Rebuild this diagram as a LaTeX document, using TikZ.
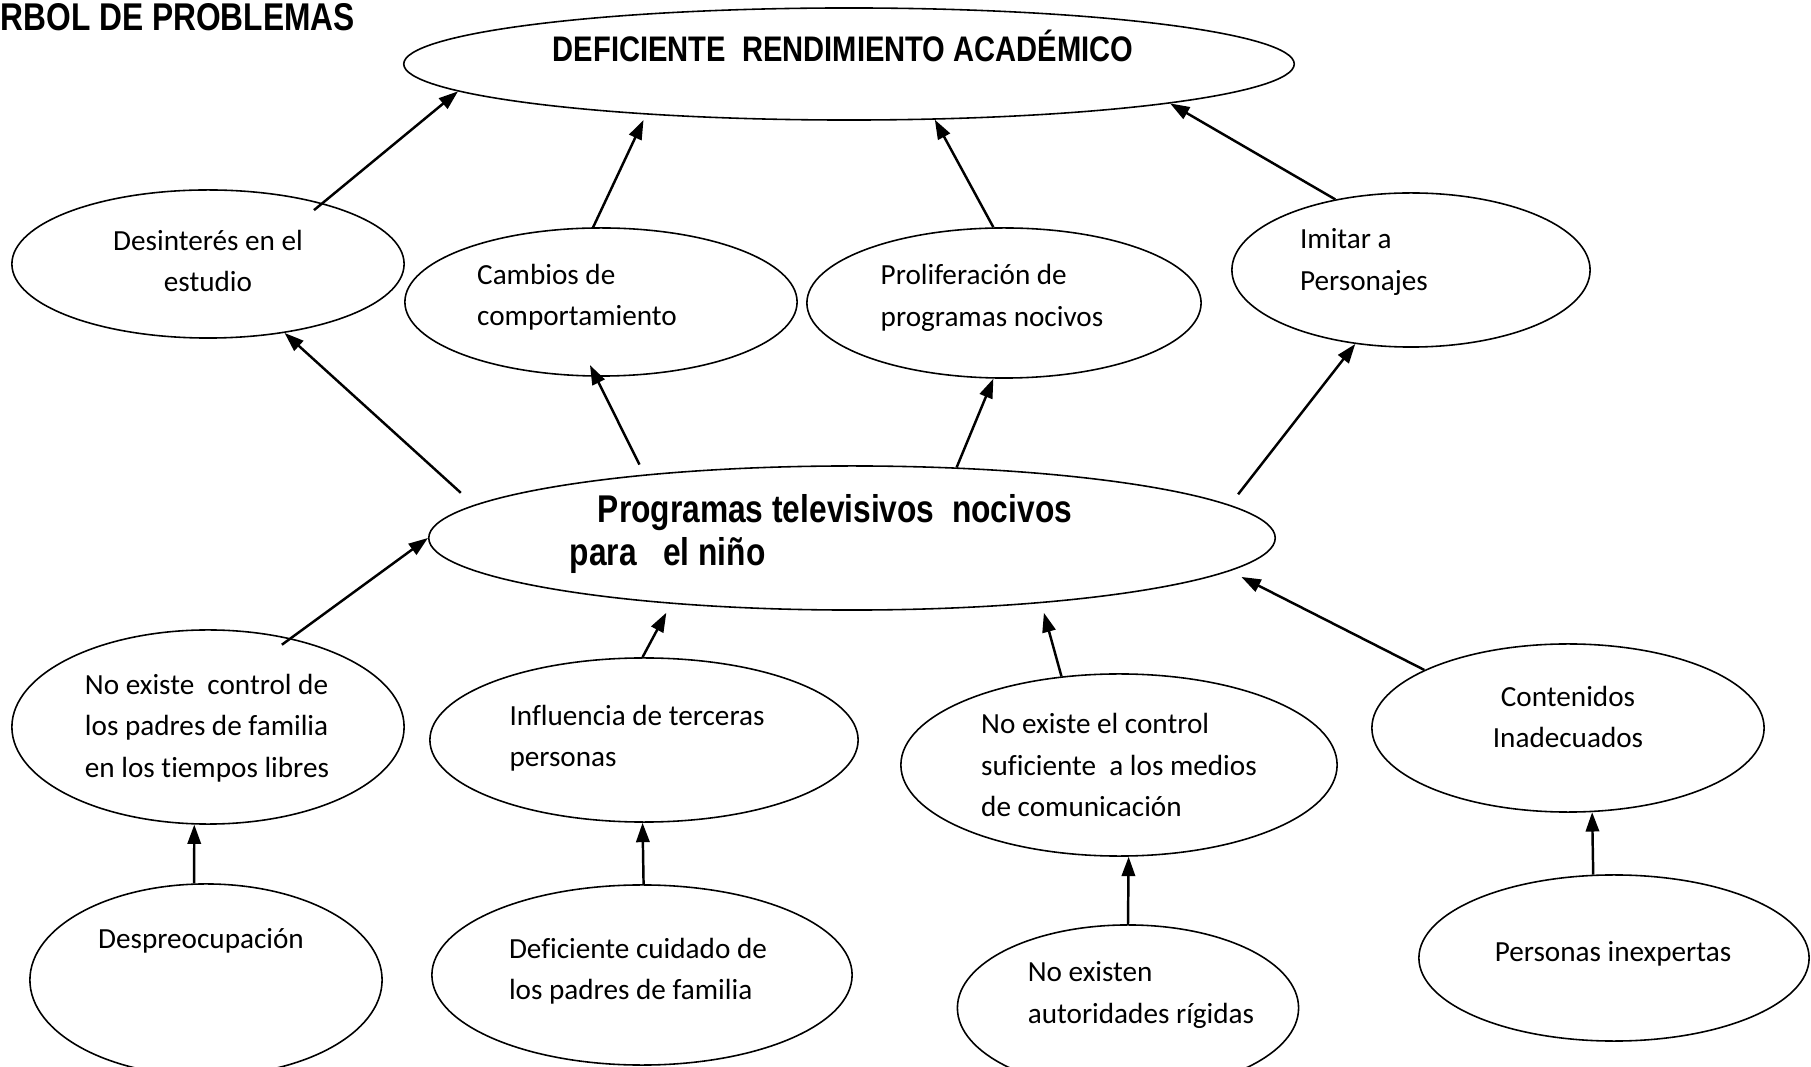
\documentclass[tikz,border=0pt]{standalone}
\usepackage{fontspec}
\setmainfont{Carlito}[Ligatures=NoCommon]
\newfontfamily\headfont[FakeStretch=0.82]{Liberation Sans}
\usetikzlibrary{arrows.meta, shapes.geometric}
\tikzset{
  bubble/.style={draw, ellipse, line width=0.45pt, inner sep=0pt},
  cause/.style={font=\fontsize{8.3}{11.8}\selectfont, align=left, inner sep=0pt},
  head/.style={font=\headfont\bfseries\fontsize{10.1}{12.5}\selectfont, align=left, inner sep=0pt},
  link/.style={-{Triangle[length=5.5pt,width=3.8pt]}, line width=0.7pt}
}

\begin{document}
\begin{tikzpicture}[x=0.01cm, y=-0.01cm]
  \useasboundingbox (0,0) rectangle (1811,1067);
  \node[head, anchor=west, font=\headfont\bfseries\fontsize{11}{13}\selectfont] (title) at (0,17) {RBOL DE PROBLEMAS};

  \node[bubble, minimum width=8.90cm, minimum height=1.12cm,
        label={[head, shift={(-6,-18)}]center:DEFICIENTE~~RENDIMIENTO ACADÉMICO}] (top) at (849,64) {};

  \node[bubble, minimum width=3.92cm, minimum height=1.48cm,
        label={[cause, align=center, shift={(0,-3)}]center:Desinterés en el\\estudio}] (desint) at (208,264) {};
  \node[bubble, minimum width=3.92cm, minimum height=1.48cm,
        label={[cause, shift={(-24,-5)}]center:Cambios de\\comportamiento}] (cambios) at (601,302) {};
  \node[bubble, minimum width=3.94cm, minimum height=1.50cm,
        label={[cause, shift={(-12,-5)}]center:Proliferación de\\programas nocivos}] (prolif) at (1004,303) {};
  \node[bubble, minimum width=3.58cm, minimum height=1.54cm,
        label={[cause, shift={(-47,-8)}]center:Imitar a\\Personajes}] (imitar) at (1411,270) {};

  \node[bubble, minimum width=8.46cm, minimum height=1.44cm,
        label={[head, font=\headfont\bfseries\fontsize{11}{12.5}\selectfont, shift={(-31,-4)}]center:\hspace*{0.28cm}Programas televisivos~~nocivos\\para~~~el niño}] (prog) at (852,538) {};

  \node[bubble, minimum width=3.92cm, minimum height=1.94cm,
        label={[cause, shift={(-1,1)}]center:No existe~~control de\\los padres de familia\\en los tiempos libres}] (noexctl) at (208,727) {};
  \node[bubble, minimum width=4.28cm, minimum height=1.64cm,
        label={[cause, shift={(-7,-2)}]center:Influencia de terceras\\personas}] (influ) at (644,740) {};
  \node[bubble, minimum width=4.36cm, minimum height=1.82cm,
        label={[cause]center:No existe el control\\suficiente~~a los medios\\de comunicación}] (noexsuf) at (1119,765) {};
  \node[bubble, minimum width=3.92cm, minimum height=1.68cm,
        label={[cause, align=center, shift={(0,-11)}]center:Contenidos\\Inadecuados}] (conten) at (1568,728) {};

  \node[bubble, minimum width=3.52cm, minimum height=1.92cm,
        label={[cause, shift={(-5,-39)}]center:Despreocupación}] (desp) at (206,980) {};
  \node[bubble, minimum width=4.20cm, minimum height=1.80cm,
        label={[cause, shift={(-4,-4)}]center:Deficiente cuidado de\\los padres de familia}] (defcuid) at (642,975) {};
  \node[bubble, minimum width=3.41cm, minimum height=1.66cm,
        label={[cause, shift={(13,-13)}]center:No existen\\autoridades rígidas}] (noexaut) at (1128,1008) {};
  \node[bubble, minimum width=3.90cm, minimum height=1.66cm,
        label={[cause, shift={(-1,-4)}]center:Personas inexpertas}] (personas) at (1614,958) {};

  \draw[link, shorten <=-0.11cm] (desint.28) -- (top.-176);
  \draw[link, shorten >=0.06cm] (cambios.96) -- (top.-166);
  \draw[link] (prolif.98) -- (top.-33);
  \draw[link] (imitar.137) -- (top.-7);

  \draw[link, shorten <=0.18cm] (prog.175) -- (desint.-42);
  \draw[link, shorten <=0.11cm, shorten >=-0.13cm] (prog.163) -- (cambios.-94);
  \draw[link] (prog.34) -- (prolif.-98);
  \draw[link, shorten <=0.135cm] (prog.5) -- (imitar.-127);

  \draw[link, shorten <=-0.11cm] (noexctl.47) -- (prog.180);
  \draw[link, shorten >=0.1cm] (influ.91) -- (prog.-160);
  \draw[link, shorten >=0.1cm] (noexsuf.123) -- (prog.-19);
  \draw[link, shorten >=0.13cm] (conten.158) -- (prog.-5);

  \draw[link] (desp.97) -- (noexctl.-98);
  \draw[link] (defcuid.89) -- (influ.-91);
  \draw[link] (noexaut.90) -- (noexsuf.-84);
  \draw[link] (personas.104) -- (conten.-74);
\end{tikzpicture}
\end{document}
